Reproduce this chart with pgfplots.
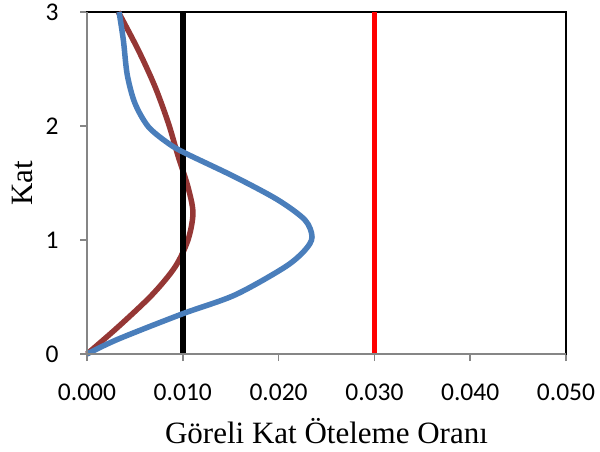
\documentclass[border=0pt]{standalone}
\usepackage{fontspec}
\setmainfont{Liberation Serif}
\newfontfamily\calibri{Carlito}
\usepackage{pgfplots}
\pgfplotsset{compat=1.18}
\definecolor{cBlue}{HTML}{4A7EBB}
\definecolor{cBrown}{HTML}{953735}
\definecolor{cGray}{HTML}{868686}

\begin{document}
\begin{tikzpicture}[x=1pt,y=1pt]
\useasboundingbox (0,0) rectangle (600,451);
\begin{axis}[
  at={(87pt,97pt)}, anchor=south west,
  scale only axis, width=479pt, height=342pt,
  xmin=0, xmax=0.05, ymin=0, ymax=3,
  clip=false, scaled x ticks=false,
  xtick={0,0.01,0.02,0.03,0.04,0.05},
  xticklabels={0.000,0.010,0.020,0.030,0.040,0.050},
  ytick={0,1,2,3}, yticklabels={0,1,2,3},
  xtick pos=bottom, ytick pos=left,
  tick align=outside, major tick length=7pt,
  tick style={draw=cGray, line width=1.5pt},
  axis line style={black, line width=2.5pt},
  ticklabel style={font=\calibri\fontsize{25.5}{30}\selectfont},
  xticklabel style={yshift=-19pt},
  yticklabel style={xshift=-18pt},
  xlabel={Göreli Kat Öteleme Oranı},
  ylabel={Kat},
  label style={font=\fontsize{31}{36}\selectfont},
  xlabel shift=11pt,
  ylabel shift=6pt,
]
\addplot[color=cBrown, line width=5.5pt, smooth, tension=0.5] coordinates {
  (0,0) (0.00324,0.237) (0.00678,0.518) (0.00919,0.763) (0.01054,1.0)
  (0.01106,1.237) (0.01054,1.465) (0.00953,1.731) (0.00849,2.026)
  (0.0071,2.345) (0.00535,2.667) (0.00327,3)
};
\addplot[color=black, line width=5.5pt] coordinates {(0.01,0) (0.01,3)};
\addplot[color=cBlue, line width=5.5pt, smooth, tension=0.5] coordinates {
  (0,0) (0.00324,0.13) (0.00992,0.351) (0.01545,0.518) (0.02067,0.763)
  (0.02276,0.912) (0.02349,1.026) (0.02276,1.175) (0.01994,1.351)
  (0.01545,1.553) (0.01023,1.763) (0.00849,1.848) (0.0064,1.994)
  (0.0050,2.2) (0.0042,2.45) (0.0038,2.75) (0.00335,3)
};
\addplot[color=red, line width=5.5pt] coordinates {(0.03,0) (0.03,3)};
\draw[cGray, line width=2pt] (rel axis cs:0,1) -- (rel axis cs:0,0) -- (rel axis cs:1,0);
\end{axis}
\end{tikzpicture}
\end{document}
